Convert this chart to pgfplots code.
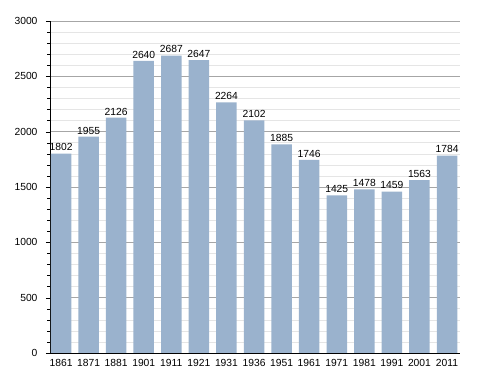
\documentclass[border=0pt]{standalone}
\usepackage{pgfplots}
\pgfplotsset{compat=1.18}
\usepackage{fontspec}
\setmainfont{Liberation Sans}
\definecolor{barc}{HTML}{9AB2CD}
\begin{document}
\begin{tikzpicture}
\begin{axis}[name=ax,
  scale only axis, width=410pt, height=332pt,
  xmin=-0.4, xmax=14.47, ymin=0, ymax=3000,
  ytick={0,500,...,3000}, minor y tick num=4,
  xtick=data,
  xticklabels={1861,1871,1881,1901,1911,1921,1931,1936,1951,1961,1971,1981,1991,2001,2011},
  axis x line*=bottom, axis y line*=left,
  axis line style={-, black, line width=0.8pt},
  x tick style={draw=none},
  y tick style={black},
  tick align=outside,
  major tick length=4pt, minor tick length=2.5pt,
  ymajorgrids, yminorgrids,
  major grid style={gray!70, line width=0.5pt},
  minor grid style={gray!20, line width=0.5pt},
  tick label style={font=\fontsize{10.3}{12}\selectfont},
  /pgf/number format/assume math mode=true,
  yticklabel style={/pgf/number format/1000 sep={}, xshift=-5pt},
  xticklabel style={yshift=1pt},
  nodes near coords,
  nodes near coords style={font=\fontsize{10.3}{12}\selectfont, /pgf/number format/1000 sep={}, yshift=-1pt},
  clip=false,
]
\addplot[ybar, bar width=20.5pt, fill=barc, draw=none] coordinates {
(0,1802) (1,1955) (2,2126) (3,2640) (4,2687) (5,2647) (6,2264) (7,2102)
(8,1885) (9,1746) (10,1425) (11,1478) (12,1459) (13,1563) (14,1784)};
\end{axis}
\path[use as bounding box] ([shift={(-50pt,-20pt)}]ax.south west) rectangle ([shift={(28pt,21pt)}]ax.north east);
\end{tikzpicture}
\end{document}
